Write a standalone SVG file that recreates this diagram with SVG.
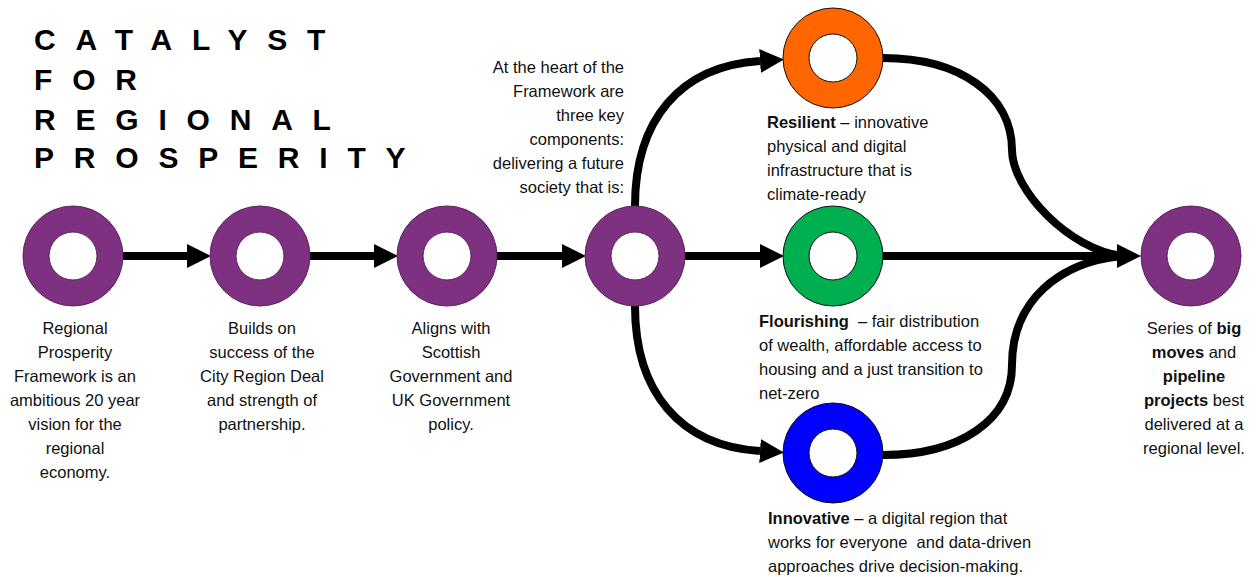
<svg xmlns="http://www.w3.org/2000/svg" width="1258" height="577" viewBox="0 0 1258 577">
<style>
text{font-family:"Liberation Sans",Arial,sans-serif;font-size:16.5px;fill:#111}
.c{text-anchor:middle}
.r{text-anchor:end}
.b{font-weight:bold}
.title{font-size:30px;font-weight:bold;letter-spacing:19.8px;fill:#000}
.ring{fill-rule:evenodd;stroke-width:1}
.p{fill:#7E3180;stroke:#5E235F}
.o{fill:#FF6600;stroke:#111}
.g{fill:#00B050;stroke:#111}
.bl{fill:#0000FF;stroke:#111}
.ln{fill:none;stroke:#000;stroke-width:8}
</style>
<defs>
<marker id="ah" markerUnits="userSpaceOnUse" markerWidth="24" markerHeight="24" refX="0" refY="12" orient="auto">
<path d="M0,0 L24,12 L0,24 z" fill="#000"/>
</marker>
</defs>
<g id="title">
<text class="title" x="34" y="50">CATALYST</text>
<text class="title" x="34" y="90">FOR</text>
<text class="title" x="34" y="130">REGIONAL</text>
<text class="title" x="34" y="168">PROSPERITY</text>
</g>
<g id="connectors">
<path class="ln" d="M123,256 H187" marker-end="url(#ah)"/>
<path class="ln" d="M310,256 H374" marker-end="url(#ah)"/>
<path class="ln" d="M497,256 H562" marker-end="url(#ah)"/>
<path class="ln" d="M685,256 H760" marker-end="url(#ah)"/>
<path class="ln" d="M635,206 C635,120 680,66 760,61" marker-end="url(#ah)"/>
<path class="ln" d="M635,306 C635,392 680,446 760,451" marker-end="url(#ah)"/>
<path class="ln" d="M883,58 C960,58 1012,95 1012,150 C1012,190 1070,250 1122,256"/>
<path class="ln" d="M883,455 C960,455 1012,420 1012,365 C1012,300 1060,262 1122,256"/>
<path class="ln" d="M883,256 H1117" marker-end="url(#ah)"/>
</g>
<g id="n1">
<path class="ring p" d="M23,256 a50,50 0 1,0 100,0 a50,50 0 1,0 -100,0 z M49,256 a24,24 0 1,0 48,0 a24,24 0 1,0 -48,0 z"/>
<text class="c" x="75" y="334">Regional</text>
<text class="c" x="75" y="358">Prosperity</text>
<text class="c" x="75" y="382">Framework is an</text>
<text class="c" x="75" y="406">ambitious 20 year</text>
<text class="c" x="75" y="430">vision for the</text>
<text class="c" x="75" y="454">regional</text>
<text class="c" x="75" y="478">economy.</text>
</g>
<g id="n2">
<path class="ring p" d="M210,256 a50,50 0 1,0 100,0 a50,50 0 1,0 -100,0 z M236,256 a24,24 0 1,0 48,0 a24,24 0 1,0 -48,0 z"/>
<text class="c" x="262" y="334">Builds on</text>
<text class="c" x="262" y="358">success of the</text>
<text class="c" x="262" y="382">City Region Deal</text>
<text class="c" x="262" y="406">and strength of</text>
<text class="c" x="262" y="430">partnership.</text>
</g>
<g id="n3">
<path class="ring p" d="M397,256 a50,50 0 1,0 100,0 a50,50 0 1,0 -100,0 z M423,256 a24,24 0 1,0 48,0 a24,24 0 1,0 -48,0 z"/>
<text class="c" x="451" y="334">Aligns with</text>
<text class="c" x="451" y="358">Scottish</text>
<text class="c" x="451" y="382">Government and</text>
<text class="c" x="451" y="406">UK Government</text>
<text class="c" x="451" y="430">policy.</text>
</g>
<g id="n4">
<path class="ring p" d="M585,256 a50,50 0 1,0 100,0 a50,50 0 1,0 -100,0 z M611,256 a24,24 0 1,0 48,0 a24,24 0 1,0 -48,0 z"/>
<text class="r" x="624" y="73">At the heart of the</text>
<text class="r" x="624" y="97">Framework are</text>
<text class="r" x="624" y="121">three key</text>
<text class="r" x="624" y="145">components:</text>
<text class="r" x="624" y="169">delivering a future</text>
<text class="r" x="624" y="193">society that is:</text>
</g>
<g id="resilient">
<path class="ring o" d="M783,58 a50,50 0 1,0 100,0 a50,50 0 1,0 -100,0 z M809,58 a24,24 0 1,0 48,0 a24,24 0 1,0 -48,0 z"/>
<text x="767" y="128"><tspan class="b">Resilient</tspan> – innovative</text>
<text x="767" y="152">physical and digital</text>
<text x="767" y="176">infrastructure that is</text>
<text x="767" y="200">climate-ready</text>
</g>
<g id="flourishing">
<path class="ring g" d="M783,256 a50,50 0 1,0 100,0 a50,50 0 1,0 -100,0 z M809,256 a24,24 0 1,0 48,0 a24,24 0 1,0 -48,0 z"/>
<text x="759" y="327"><tspan class="b">Flourishing</tspan>&#160; – fair distribution</text>
<text x="759" y="351">of wealth, affordable access to</text>
<text x="759" y="375">housing and a just transition to</text>
<text x="759" y="399">net-zero</text>
</g>
<g id="innovative">
<path class="ring bl" d="M783,453 a50,50 0 1,0 100,0 a50,50 0 1,0 -100,0 z M809,453 a24,24 0 1,0 48,0 a24,24 0 1,0 -48,0 z"/>
<text x="768" y="524"><tspan class="b">Innovative</tspan> – a digital region that</text>
<text x="768" y="548">works for everyone&#160; and data-driven</text>
<text x="768" y="572">approaches drive decision-making.</text>
</g>
<g id="n5">
<path class="ring p" d="M1141,256 a50,50 0 1,0 100,0 a50,50 0 1,0 -100,0 z M1167,256 a24,24 0 1,0 48,0 a24,24 0 1,0 -48,0 z"/>
<text class="c" x="1194" y="334">Series of <tspan class="b">big</tspan></text>
<text class="c" x="1194" y="358"><tspan class="b">moves</tspan> and</text>
<text class="c" x="1194" y="382" font-weight="bold">pipeline</text>
<text class="c" x="1194" y="406"><tspan class="b">projects</tspan> best</text>
<text class="c" x="1194" y="430">delivered at a</text>
<text class="c" x="1194" y="454">regional level.</text>
</g>
</svg>
